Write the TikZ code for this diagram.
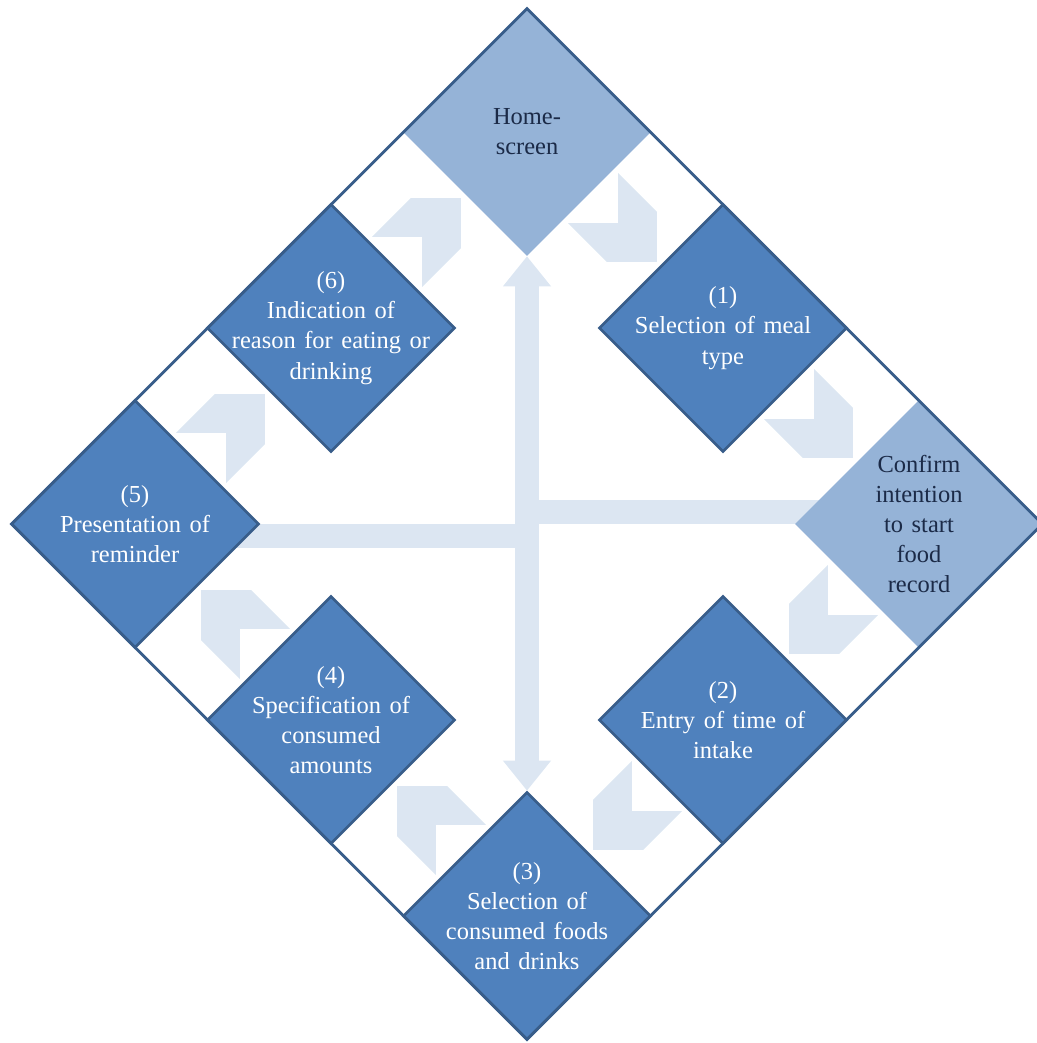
\documentclass[tikz,border=0pt]{standalone}
\usepackage{fontspec}
\setmainfont{Liberation Serif}
\usepackage{xcolor}
\usetikzlibrary{shapes.geometric,arrows.meta,calc,backgrounds}

\definecolor{stepblue}{HTML}{4F81BD}
\definecolor{stepedge}{HTML}{385D8A}
\definecolor{homeblue}{HTML}{95B3D7}
\definecolor{flowblue}{HTML}{DCE6F2}
\definecolor{navytext}{HTML}{1B2A47}

% slightly wider word gaps inside the diamonds
\newcommand{\stepfont}{\fontsize{17.4}{21.5}\selectfont\spaceskip 0.35em plus 0.1em\relax}

\begin{document}
\begin{tikzpicture}[
        darkdiamond/.style={diamond, minimum size=6.2cm, inner sep=0pt, fill=stepblue, draw=stepedge, line width=1.8pt},
        lightdiamond/.style={diamond, minimum size=6.2cm, inner sep=0pt, fill=homeblue},
        steptext/.style={align=center, text=white, font=\stepfont},
        hometext/.style={steptext, text=navytext},
        bigarrow/.style={draw=flowblue, line width=0.6cm, -{Triangle[width=1.15cm,length=0.75cm]}},
        chevron/.pic={
            \fill[flowblue] (-1.125,0.885) -- (0.24,0.885) -- (1.125,0) -- (0.24,-0.885)
                -- (-1.125,-0.885) -- (-0.24,0) -- cycle;
        }
    ]
            \useasboundingbox (-13.175,-12.975) rectangle (12.725,13.1);

            % the eight steps round the ring
            \node[lightdiamond] (home) at (0,9.8) {};
            \node[darkdiamond] (meal) at (4.9,4.9) {};
            \node[lightdiamond] (confirm) at (9.8,0) {};
            \node[darkdiamond] (time) at (4.9,-4.9) {};
            \node[darkdiamond] (foods) at (0,-9.8) {};
            \node[darkdiamond] (amounts) at (-4.9,-4.9) {};
            \node[darkdiamond] (reminder) at (-9.8,0) {};
            \node[darkdiamond] (reason) at (-4.9,4.9) {};

            \node[hometext] (home-t) at (home) {Home-\\screen};
            \node[steptext] (meal-t) at (meal) {(1)\\Selection of meal\\type};
            \node[hometext] (confirm-t) at (confirm) {Confirm\\intention\\to start\\food\\record};
            \node[steptext] (time-t) at (time) {(2)\\Entry of time of\\intake};
            \node[steptext] (foods-t) at (foods) {(3)\\Selection of\\consumed foods\\and drinks};
            \node[steptext] (amounts-t) at (amounts) {(4)\\Specification of\\consumed\\amounts};
            \node[steptext] (reminder-t) at (reminder) {(5)\\Presentation of\\reminder};
            \node[steptext] (reason-t) at (reason) {(6)\\Indication of\\reason for eating or\\drinking};

            \begin{scope}[on background layer]
                % short cuts through the middle
                \draw[bigarrow] ($(confirm.center)+(0,0.3)$) -| (home.south);
                \draw[bigarrow] ($(reminder.center)+(0,-0.3)$) -| (foods.north);
                % chevrons between neighbouring steps
                \foreach \a/\b/\r in {home/meal/-45, meal/confirm/-45, confirm/time/-135, time/foods/-135,
                        foods/amounts/135, amounts/reminder/135, reminder/reason/45, reason/home/45}
                    \pic[rotate=\r] at ($(\a)!0.5!(\b)$) {chevron};
            \end{scope}

            \node[diamond, minimum size=25.8cm, inner sep=0pt, draw=stepedge, line width=2pt] (ring) at (0,0) {};
        \end{tikzpicture}
\end{document}
